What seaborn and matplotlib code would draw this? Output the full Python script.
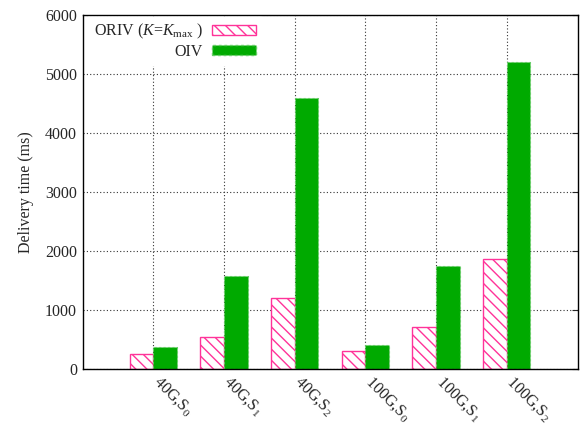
import matplotlib
matplotlib.use("Agg")
import matplotlib.pyplot as plt
import matplotlib.transforms as mtransforms
import seaborn as sns
import pandas as pd

categories = ["40G,S$_{\\,0}$", "40G,S$_{\\,1}$", "40G,S$_{\\,2}$",
              "100G,S$_{\\,0}$", "100G,S$_{\\,1}$", "100G,S$_{\\,2}$"]
oriv_values = [255, 550, 1205, 310, 715, 1865]
oiv_values = [375, 1575, 4595, 405, 1745, 5200]
series_names = ["ORIV ($\\it{K}$=$\\it{K}_{\\rm max}$ )", "OIV"]
y_ticks = [0, 1000, 2000, 3000, 4000, 5000, 6000]

sns.set_theme(style="white")
plt.rcParams["font.family"] = ["Liberation Serif", "DejaVu Serif"]
plt.rcParams["mathtext.fontset"] = "custom"
plt.rcParams["mathtext.rm"] = "Liberation Serif"
plt.rcParams["mathtext.it"] = "Liberation Serif:italic"
plt.rcParams["mathtext.default"] = "regular"
plt.rcParams["hatch.linewidth"] = 1.0

df = pd.DataFrame({
    "case": categories * 2,
    "time": oriv_values + oiv_values,
    "series": [series_names[0]] * len(categories) + [series_names[1]] * len(categories),
})

pink = "#ff3399"
green = "#00aa00"
hatch = "\\\\\\"

fig = plt.figure(figsize=(5.81, 4.24), dpi=100)
ax = fig.add_axes([82.5 / 581, 55 / 424, (577.5 - 82.5) / 581, (369 - 15) / 424])

sns.barplot(data=df, x="case", y="time", hue="series", order=categories,
            hue_order=series_names, palette=[green, green], width=0.67,
            ax=ax, zorder=3, saturation=1)

n = len(categories)
for p in ax.patches[:n]:
    p.set_facecolor("white")
    p.set_edgecolor(pink)
    p.set_hatch(hatch)
    p.set_linewidth(1.0)
for p in ax.patches[n:2 * n]:
    p.set_facecolor(green)
    p.set_edgecolor("#66cc66")
    p.set_linestyle((0, (2, 2)))
    p.set_linewidth(0.8)

ax.set_xlim(-1, 6)
ax.set_ylim(0, 6000)
ax.set_yticks(y_ticks)
ax.set_yticklabels([str(v) for v in y_ticks], fontsize=11.5)
ax.set_xlabel("")
ax.set_ylabel("Delivery time (ms)", fontsize=11.5, labelpad=8)

ax.set_xticks(range(n))
ax.set_xticklabels(categories, rotation=-45, ha="left", va="top",
                   rotation_mode="anchor", fontsize=11.5)
ax.tick_params(axis="x", length=0, pad=3)
shift = mtransforms.ScaledTranslation(6 / 72, 0 / 72, fig.dpi_scale_trans)
for lbl in ax.get_xticklabels():
    lbl.set_transform(lbl.get_transform() + shift)
ax.tick_params(axis="y", direction="in", length=4, right=True, width=0.8, pad=4)

ax.grid(True, which="major", axis="both", color="#333333", linestyle=(0, (1, 2)),
        linewidth=0.8, zorder=0)
ax.set_axisbelow(True)
for s in ax.spines.values():
    s.set_color("black")
    s.set_linewidth(1.0)
    s.set_zorder(5)

handles, labels = ax.get_legend_handles_labels()
leg = ax.legend(handles, labels, loc="upper left", bbox_to_anchor=(0.0, 1.0),
                markerfirst=False, frameon=True, framealpha=1, edgecolor="white",
                facecolor="white", fontsize=11.5, handlelength=2.7, handleheight=0.6,
                handletextpad=0.6, borderaxespad=0.1, borderpad=0.35,
                labelspacing=0.15, fancybox=False)
leg.set_bbox_to_anchor((4 / 495, 1.0), transform=ax.transAxes)
leg_handles = leg.legend_handles
leg_handles[0].set_facecolor("white")
leg_handles[0].set_edgecolor(pink)
leg_handles[0].set_hatch(hatch)
leg_handles[1].set_facecolor(green)
leg_handles[1].set_edgecolor("#66cc66")
leg_handles[1].set_linestyle((0, (2, 2)))

fig.savefig("out.png", dpi=100)
